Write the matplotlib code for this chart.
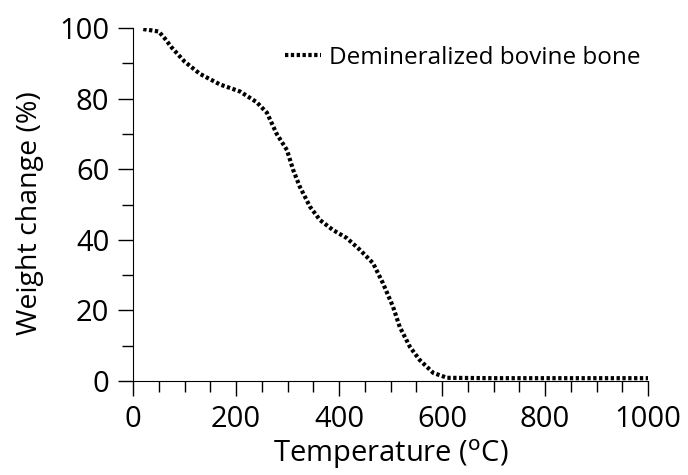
import matplotlib
matplotlib.use('Agg')
from matplotlib import pyplot as plt
from matplotlib.ticker import MultipleLocator

plt.rcParams['font.family'] = ['Open Sans', 'DejaVu Sans']

temp = [20, 50, 62, 75, 100, 130, 169, 208, 240, 260, 279, 299, 311, 324, 344,
        363, 388, 415, 441, 466, 485, 505, 518, 538, 557, 583, 610, 700, 800, 900, 1000]
weight = [99.7, 99.0, 97.0, 94.5, 90.5, 87.0, 84.0, 82.0, 79.0, 76.0, 70.0, 65.4, 59.8, 55.0, 49.3,
          45.6, 42.8, 40.5, 37.1, 33.4, 27.8, 21.0, 15.3, 9.6, 5.9, 2.3, 0.9, 0.8, 0.8, 0.8, 0.8]
label = 'Demineralized bovine bone'

fig = plt.figure(figsize=(6.88, 4.75), dpi=100)
ax = fig.add_axes([133/688, 1-381/475, (648-133)/688, (381-28)/475])
ax.plot(temp, weight, color='black', lw=3, linestyle=(0, (0.8, 0.6)), label=label)

ax.set_xlim(0, 1000)
ax.set_ylim(0, 100)
ax.xaxis.set_major_locator(MultipleLocator(200))
ax.xaxis.set_minor_locator(MultipleLocator(50))
ax.yaxis.set_major_locator(MultipleLocator(20))
ax.yaxis.set_minor_locator(MultipleLocator(10))
ax.tick_params(which='major', length=11, width=1, labelsize=21, pad=6)
ax.tick_params(which='minor', length=8, width=1)
for s in ['top', 'right']:
    ax.spines[s].set_visible(False)

ax.set_xlabel(r'Temperature ($^{\mathrm{o}}$C)', fontsize=21, labelpad=3)
ax.set_ylabel('Weight change (%)', fontsize=20.5)
ax.yaxis.set_label_coords(-0.172, 0.4745)

ax.legend(loc='center right', frameon=False, fontsize=17.5, handlelength=1.5,
          handletextpad=0.3, borderpad=0, borderaxespad=0,
          bbox_to_anchor=(0.9845, 0.915))

fig.savefig('out.png', dpi=100)
